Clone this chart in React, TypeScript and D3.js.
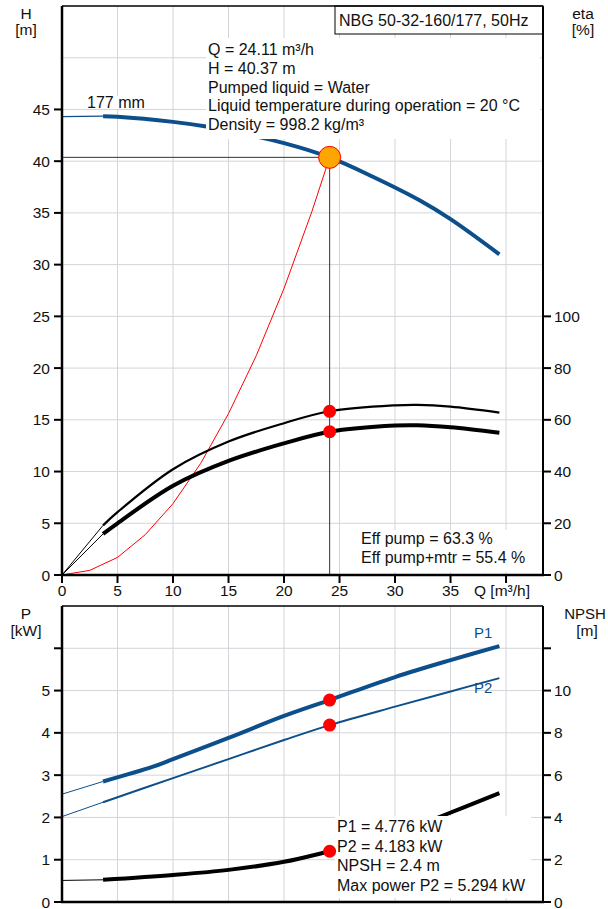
import React from 'react';
import * as d3 from 'd3';

// Pump curve readings: flow Q [m³/h] against head, efficiency, power and NPSH
const headQ = [0, 3.7, 5, 10, 13, 15, 20, 24.11, 28, 32.25, 35, 39.4];
const headH = [44.3, 44.35, 44.3, 43.8, 43.35, 42.95, 41.75, 40.37, 38.5, 36.2, 34.4, 31.0];

const etaQ = [0, 3.7, 5, 10, 15, 20, 24.11, 30, 32, 35, 39.4];
const etaPump = [0, 19.2, 24.3, 40.9, 51.6, 58.7, 63.3, 65.6, 65.8, 65.1, 62.8];
const etaPumpMotor = [0, 15.9, 20.0, 34.5, 44.1, 50.9, 55.4, 57.8, 57.9, 57.1, 55.0];

const systemQ = [0, 2.5, 5, 7.5, 10, 12.5, 15, 17.5, 20, 22.5, 24.11];
const systemH = [0, 0.45, 1.7, 3.9, 6.9, 10.8, 15.6, 21.2, 27.7, 35.1, 40.37];

const p1Q = [0, 3.7, 8.2, 10, 15, 20, 24.11, 30, 35, 39.4];
const powerP1 = [2.55, 2.85, 3.2, 3.38, 3.88, 4.4, 4.776, 5.32, 5.72, 6.05];
const p2Q = [0, 3.7, 10, 15, 20, 24.11, 30, 35, 39.4];
const powerP2 = [2.02, 2.36, 2.93, 3.38, 3.83, 4.183, 4.62, 4.98, 5.294];
const npshQ = [0, 3.7, 10, 15, 20, 24.11, 27, 30, 34, 39.4];
const npshM = [1.02, 1.05, 1.28, 1.52, 1.9, 2.4, 2.76, 3.2, 4.02, 5.15];

// Duty point
const dutyQ = 24.11;
const dutyH = 40.37;
const dutyEtaPump = 63.3;
const dutyEtaTotal = 55.4;
const dutyP1 = 4.776;
const dutyP2 = 4.183;
const dutyNpsh = 2.4;
const ruleStartQ = 3.7; // curves are drawn thin below this flow

// Ticks
const qTickLabels = [0, 5, 10, 15, 20, 25, 30, 35];
const qGrid = [5, 10, 15, 20, 25, 30, 35, 40];
const hTicks = [0, 5, 10, 15, 20, 25, 30, 35, 40, 45];
const hGrid = [5, 10, 15, 20, 25, 30, 35, 40, 45, 50];
const etaTicks = [0, 20, 40, 60, 80, 100];
const pTicks = [0, 1, 2, 3, 4, 5, 6];
const pLabels = [0, 1, 2, 3, 4, 5];
const npshTicks = [0, 2, 4, 6, 8, 10, 12];
const npshLabels = [0, 2, 4, 6, 8, 10];

const title = 'NBG 50-32-160/177, 50Hz';
const impeller = '177 mm';
const infoLines = [
  'Q = 24.11 m³/h',
  'H = 40.37 m',
  'Pumped liquid = Water',
  'Liquid temperature during operation = 20 °C',
  'Density = 998.2 kg/m³',
];
const effLines = ['Eff pump = 63.3 %', 'Eff pump+mtr = 55.4 %'];
const powerLines = ['P1 = 4.776 kW', 'P2 = 4.183 kW', 'NPSH = 2.4 m', 'Max power P2 = 5.294 kW'];

const W = 608;
const H = 909;
const L = 62;
const R = 543;
const TOP1 = 6;
const BOT1 = 575;
const TOP2 = 606;
const BOT2 = 902;

const BLUE = '#0d4f8b';
const GRID = '#d2d5d9';
const FONT = '"Liberation Sans", Arial, Helvetica, sans-serif';
const TICK_FS = 15.5;
const NOTE_FS = 16;

type Pt = [number, number];
const zip = (a: number[], b: number[]): Pt[] => a.map((v, i) => [v, b[i]]);

export default function App() {
  const x = d3.scaleLinear().domain([0, 43.33]).range([L, R]);
  const yH = d3.scaleLinear().domain([0, 55]).range([BOT1, TOP1]);
  const yEta = d3.scaleLinear().domain([0, 220]).range([BOT1, TOP1]);
  const yP = d3.scaleLinear().domain([0, 7]).range([BOT2, TOP2]);
  const yN = d3.scaleLinear().domain([0, 14]).range([BOT2, TOP2]);

  const smooth = d3.curveCatmullRom.alpha(0.5);
  const mk = (ys: d3.ScaleLinear<number, number>, curve: d3.CurveFactory = smooth) =>
    d3
      .line<Pt>()
      .x((d) => x(d[0]))
      .y((d) => ys(d[1]))
      .curve(curve);

  const thin = (pts: Pt[]) => pts.filter((p) => p[0] <= ruleStartQ);
  const thick = (pts: Pt[]) => pts.filter((p) => p[0] >= ruleStartQ);

  const headPts = zip(headQ, headH);
  const etaPts = zip(etaQ, etaPump);
  const etaTotPts = zip(etaQ, etaPumpMotor);
  const sysPts = zip(systemQ, systemH);
  const p1Pts = zip(p1Q, powerP1);
  const p2Pts = zip(p2Q, powerP2);
  const npshPts = zip(npshQ, npshM);

  const lH = mk(yH);
  const lEta = mk(yEta);
  const lP = mk(yP);
  const lN = mk(yN);
  const lSys = mk(yH, d3.curveLinear);

  const txt = { fontFamily: FONT, fontSize: TICK_FS, fill: '#111' } as const;

  return (
    <svg
      width={W}
      height={H}
      viewBox={`0 0 ${W} ${H}`}
      style={{ position: 'absolute', left: 0, top: 0, display: 'block', background: '#fff' }}
    >
      {/* ---------- upper chart: head and efficiency ---------- */}
      <g>
        {qGrid.map((q) => (
          <line key={'qg1' + q} x1={x(q)} x2={x(q)} y1={TOP1} y2={BOT1} stroke={GRID} strokeWidth={1} />
        ))}
        {hGrid.map((h) => (
          <line key={'hg' + h} x1={L} x2={R} y1={yH(h)} y2={yH(h)} stroke={GRID} strokeWidth={1} />
        ))}

        {/* duty point crosshair */}
        <line x1={L} x2={x(dutyQ)} y1={yH(dutyH)} y2={yH(dutyH)} stroke="#333" strokeWidth={1} />
        <line x1={x(dutyQ)} x2={x(dutyQ)} y1={yH(dutyH)} y2={BOT1} stroke="#333" strokeWidth={1} />

        {/* system curve */}
        <path d={lSys(sysPts) || ''} fill="none" stroke="#ff0000" strokeWidth={1} />

        {/* efficiency curves */}
        <path d={lEta(thin(etaPts)) || ''} fill="none" stroke="#000" strokeWidth={1} />
        <path d={lEta(thick(etaPts)) || ''} fill="none" stroke="#000" strokeWidth={2.2} />
        <path d={lEta(thin(etaTotPts)) || ''} fill="none" stroke="#000" strokeWidth={1} />
        <path d={lEta(thick(etaTotPts)) || ''} fill="none" stroke="#000" strokeWidth={4} />

        {/* QH curve */}
        <path d={lH(thin(headPts)) || ''} fill="none" stroke={BLUE} strokeWidth={1.2} />
        <path d={lH(thick(headPts)) || ''} fill="none" stroke={BLUE} strokeWidth={4} />

        {/* white label panels */}
        <rect x={206} y={38} width={334} height={101} fill="#fff" />
        <rect x={357} y={530} width={174} height={42} fill="#fff" />
        <rect x={85} y={96} width={60} height={13} fill="#fff" />

        <text x={87} y={108} {...txt} fontSize={NOTE_FS}>
          {impeller}
        </text>
        {infoLines.map((s, i) => (
          <text key={s} x={208} y={55 + i * 18.8} {...txt} fontSize={NOTE_FS}>
            {s}
          </text>
        ))}
        {effLines.map((s, i) => (
          <text key={s} x={361} y={544 + i * 19.2} {...txt} fontSize={NOTE_FS}>
            {s}
          </text>
        ))}

        {/* title box */}
        <rect x={335} y={TOP1} width={R - 335} height={28} fill="#fff" stroke="#000" strokeWidth={1} />
        <text x={339} y={26} {...txt} fontSize={NOTE_FS}>
          {title}
        </text>

        {/* frame and axes */}
        <line x1={L} x2={R} y1={TOP1} y2={TOP1} stroke="#000" strokeWidth={1.5} />
        <line x1={R} x2={R} y1={TOP1} y2={BOT1} stroke="#000" strokeWidth={2} />
        <line x1={L} x2={L} y1={TOP1} y2={BOT1 + 1} stroke="#000" strokeWidth={2.5} />
        <line x1={L - 1} x2={R + 1} y1={BOT1} y2={BOT1} stroke="#000" strokeWidth={2.5} />

        {hTicks.map((h) => (
          <g key={'ht' + h}>
            <line x1={L - 8} x2={L} y1={yH(h)} y2={yH(h)} stroke="#000" strokeWidth={2} />
            <text x={50} y={yH(h) + 5.5} textAnchor="end" {...txt}>
              {h}
            </text>
          </g>
        ))}
        {etaTicks.map((e) => (
          <g key={'et' + e}>
            <line x1={R} x2={R + 8} y1={yEta(e)} y2={yEta(e)} stroke="#000" strokeWidth={2} />
            <text x={554} y={yEta(e) + 5.5} {...txt}>
              {e}
            </text>
          </g>
        ))}
        {qTickLabels.map((q) => (
          <g key={'qt' + q}>
            <line x1={x(q)} x2={x(q)} y1={BOT1} y2={BOT1 + 8} stroke="#000" strokeWidth={2} />
            <text x={x(q)} y={596} textAnchor="middle" {...txt}>
              {q}
            </text>
          </g>
        ))}
        <line x1={x(40)} x2={x(40)} y1={BOT1} y2={BOT1 + 8} stroke="#000" strokeWidth={2} />
        <text x={474} y={596} {...txt}>
          Q [m³/h]
        </text>

        <text x={26} y={19} textAnchor="middle" {...txt}>
          H
        </text>
        <text x={26} y={35} textAnchor="middle" {...txt}>
          [m]
        </text>
        <text x={583} y={19} textAnchor="middle" {...txt}>
          eta
        </text>
        <text x={583} y={35} textAnchor="middle" {...txt}>
          [%]
        </text>

        {/* duty point markers */}
        <circle cx={x(dutyQ)} cy={yEta(dutyEtaPump)} r={6.5} fill="#ff0000" />
        <circle cx={x(dutyQ)} cy={yEta(dutyEtaTotal)} r={6.5} fill="#ff0000" />
        <circle cx={x(dutyQ)} cy={yH(dutyH)} r={11} fill="#ffa500" stroke="#ff0000" strokeWidth={1} />
      </g>

      {/* ---------- lower chart: power and NPSH ---------- */}
      <g>
        {qGrid.map((q) => (
          <line key={'qg2' + q} x1={x(q)} x2={x(q)} y1={TOP2} y2={BOT2} stroke={GRID} strokeWidth={1} />
        ))}
        {pTicks.slice(1).map((p) => (
          <line key={'pg' + p} x1={L} x2={R} y1={yP(p)} y2={yP(p)} stroke={GRID} strokeWidth={1} />
        ))}

        <path d={lN(thin(npshPts)) || ''} fill="none" stroke="#000" strokeWidth={1} />
        <path d={lN(thick(npshPts)) || ''} fill="none" stroke="#000" strokeWidth={4} />
        <path d={lP(thin(p2Pts)) || ''} fill="none" stroke={BLUE} strokeWidth={1} />
        <path d={lP(thick(p2Pts)) || ''} fill="none" stroke={BLUE} strokeWidth={2} />
        <path d={lP(thin(p1Pts)) || ''} fill="none" stroke={BLUE} strokeWidth={1} />
        <path d={lP(thick(p1Pts)) || ''} fill="none" stroke={BLUE} strokeWidth={4} />

        <text x={474} y={638} {...txt} fontSize={15} fill={BLUE}>
          P1
        </text>
        <text x={474} y={693} {...txt} fontSize={15} fill={BLUE}>
          P2
        </text>

        <rect x={335} y={816} width={196} height={82} fill="#fff" />
        {powerLines.map((s, i) => (
          <text key={s} x={337} y={832 + i * 19.6} {...txt} fontSize={NOTE_FS}>
            {s}
          </text>
        ))}

        <line x1={L} x2={R} y1={TOP2} y2={TOP2} stroke="#000" strokeWidth={1.5} />
        <line x1={R} x2={R} y1={TOP2} y2={BOT2} stroke="#000" strokeWidth={2} />
        <line x1={L} x2={L} y1={TOP2} y2={BOT2 + 1} stroke="#000" strokeWidth={2.5} />
        <line x1={L - 1} x2={R + 1} y1={BOT2} y2={BOT2} stroke="#000" strokeWidth={2.5} />

        {pTicks.map((p) => (
          <line key={'pt' + p} x1={L - 8} x2={L} y1={yP(p)} y2={yP(p)} stroke="#000" strokeWidth={2} />
        ))}
        {pLabels.map((p) => (
          <text key={'pl' + p} x={50} y={yP(p) + 5.5} textAnchor="end" {...txt}>
            {p}
          </text>
        ))}
        {npshTicks.map((n) => (
          <line key={'nt' + n} x1={R} x2={R + 8} y1={yN(n)} y2={yN(n)} stroke="#000" strokeWidth={2} />
        ))}
        {npshLabels.map((n) => (
          <text key={'nl' + n} x={554} y={yN(n) + 5.5} {...txt}>
            {n}
          </text>
        ))}

        <text x={26} y={619} textAnchor="middle" {...txt}>
          P
        </text>
        <text x={26} y={636} textAnchor="middle" {...txt}>
          [kW]
        </text>
        <text x={585} y={619} textAnchor="middle" {...txt} fontSize={15}>
          NPSH
        </text>
        <text x={587} y={636} textAnchor="middle" {...txt}>
          [m]
        </text>

        <circle cx={x(dutyQ)} cy={yP(dutyP1)} r={6.5} fill="#ff0000" />
        <circle cx={x(dutyQ)} cy={yP(dutyP2)} r={6.5} fill="#ff0000" />
        <circle cx={x(dutyQ)} cy={yN(dutyNpsh)} r={6.5} fill="#ff0000" />
      </g>
    </svg>
  );
}
